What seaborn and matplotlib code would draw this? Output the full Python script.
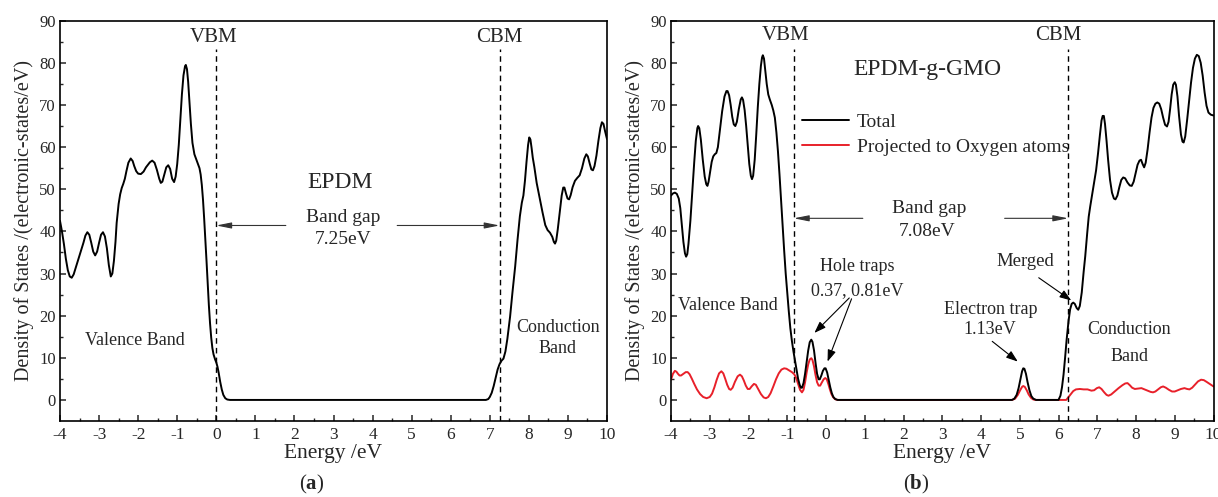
import numpy as np
import pandas as pd
import matplotlib
matplotlib.use("Agg")
import matplotlib.pyplot as plt
import seaborn as sns

# ---------------- data ----------------
energy_a = [-4.0, -3.95, -3.9, -3.85, -3.8, -3.75, -3.7, -3.65, -3.6, -3.5, -3.4, -3.35, -3.3, -3.25,
            -3.2, -3.15, -3.1, -3.05, -3.0, -2.95, -2.9, -2.85, -2.8, -2.75, -2.7, -2.66, -2.62,
            -2.58, -2.55, -2.5, -2.46, -2.42, -2.38, -2.34, -2.3, -2.25, -2.19, -2.14, -2.1, -2.05,
            -2.0, -1.93, -1.86, -1.8, -1.7, -1.64, -1.58, -1.52, -1.46, -1.42, -1.38, -1.33, -1.28,
            -1.23, -1.18, -1.13, -1.08, -1.04, -1.0, -0.96, -0.92, -0.88, -0.84, -0.8, -0.78, -0.75,
            -0.72, -0.68, -0.65, -0.61, -0.56, -0.52, -0.48, -0.43, -0.4, -0.37, -0.34, -0.31, -0.28,
            -0.25, -0.22, -0.19, -0.16, -0.13, -0.1, -0.07, -0.03, 0.0, 0.03, 0.06, 0.1, 0.14, 0.18,
            0.23, 0.28, 0.35, 6.9, 6.96, 7.0, 7.05, 7.1, 7.15, 7.2, 7.25, 7.3, 7.35, 7.4, 7.45, 7.52,
            7.58, 7.65, 7.71, 7.77, 7.82, 7.86, 7.9, 7.94, 7.98, 8.01, 8.04, 8.07, 8.1, 8.14, 8.2,
            8.27, 8.35, 8.42, 8.48, 8.54, 8.6, 8.64, 8.67, 8.7, 8.74, 8.79, 8.84, 8.88, 8.91, 8.95,
            8.99, 9.03, 9.07, 9.12, 9.18, 9.24, 9.3, 9.36, 9.42, 9.47, 9.51, 9.56, 9.6, 9.64, 9.68,
            9.73, 9.78, 9.83, 9.87, 9.91, 9.95, 10.0]
dos_a = [42.5, 40, 37, 33.5, 30.8, 29.3, 29, 29.8, 31.3, 34.3, 37.3, 39, 39.8, 39.2,
         37.3, 35.2, 34.3, 35.2, 37.3, 39.2, 39.8, 38.8, 36, 32, 29.3, 30, 33,
         37.5, 42, 46.5, 48.8, 50.3, 51.3, 52.5, 54.3, 56.3, 57.3, 56.7, 55.5, 54.3,
         53.7, 53.6, 54.2, 55.2, 56.4, 56.8, 56.3, 54.6, 52.5, 51.5, 51.8, 53.5, 55.2,
         55.7, 54.8, 52.5, 51.7, 53, 56, 60.5, 66.5, 72.5, 77, 79.2, 79.5, 78.5,
         75.5, 70, 65.5, 61, 58.3, 57.3, 56.3, 55, 53.5, 51, 47.5, 43, 38,
         33, 27.5, 22.5, 18.2, 14.8, 12.3, 10.8, 9.6, 8.9, 7.9, 6.5, 4.3, 2.5, 1.2,
         0.4, 0.1, 0, 0, 0.2, 0.7, 1.7, 3.3, 5.3, 7.2, 8.5, 9.3, 9.8, 11.5, 14.5, 19.8,
         25.5, 31.7, 38, 43.6, 46.8, 48.5, 52, 56.5, 60.5, 62.3, 61.8, 59.8, 57.5, 55.3, 51.5,
         48.2, 44.5, 41.5, 40.3, 39.7, 38.7, 37.5, 37.1, 37.8, 40.5, 44.5, 48.5, 50.4, 50.4, 49,
         47.8, 47.6, 48.6, 50.5, 52, 52.7, 53.3, 55, 57.3, 58.3, 57.8, 56, 54.7, 54.5, 55.5,
         58, 61.5, 64.5, 65.9, 65.5, 63.8, 61.9]

energy_b_total = [-4.0, -3.95, -3.9, -3.85, -3.8, -3.76, -3.72, -3.68, -3.64, -3.61, -3.58, -3.55,
                  -3.5, -3.45, -3.4, -3.36, -3.32, -3.3, -3.27, -3.23, -3.18, -3.13, -3.09, -3.06,
                  -3.03, -2.99, -2.95, -2.91, -2.87, -2.83, -2.79, -2.74, -2.68, -2.62, -2.57, -2.54,
                  -2.5, -2.46, -2.42, -2.38, -2.34, -2.3, -2.25, -2.2, -2.17, -2.14, -2.1, -2.06,
                  -2.02, -1.98, -1.94, -1.91, -1.88, -1.84, -1.8, -1.76, -1.72, -1.68, -1.65, -1.63,
                  -1.6, -1.57, -1.53, -1.49, -1.45, -1.4, -1.36, -1.32, -1.28, -1.24, -1.2, -1.16,
                  -1.12, -1.08, -1.04, -1.0, -0.96, -0.92, -0.88, -0.84, -0.8, -0.76, -0.72, -0.68,
                  -0.65, -0.62, -0.58, -0.54, -0.5, -0.46, -0.42, -0.38, -0.35, -0.31, -0.27, -0.23,
                  -0.19, -0.16, -0.12, -0.08, -0.04, -0.01, 0.03, 0.07, 0.11, 0.15, 0.19, 0.24, 0.3,
                  4.8, 4.86, 4.92, 4.97, 5.02, 5.06, 5.09, 5.12, 5.16, 5.2, 5.25, 5.3, 5.35, 5.42,
                  6.0, 6.05, 6.09, 6.13, 6.17, 6.21, 6.26, 6.3, 6.34, 6.38, 6.42, 6.47, 6.51, 6.55,
                  6.6, 6.65, 6.69, 6.74, 6.78, 6.82, 6.87, 6.92, 6.97, 7.02, 7.07, 7.11, 7.14, 7.17,
                  7.2, 7.24, 7.28, 7.33, 7.38, 7.43, 7.47, 7.52, 7.57, 7.62, 7.67, 7.72, 7.78, 7.84,
                  7.89, 7.94, 7.99, 8.04, 8.09, 8.13, 8.17, 8.21, 8.25, 8.3, 8.35, 8.4, 8.45, 8.5,
                  8.55, 8.6, 8.65, 8.7, 8.75, 8.8, 8.84, 8.88, 8.92, 8.96, 9.0, 9.03, 9.07, 9.11,
                  9.16, 9.2, 9.23, 9.27, 9.32, 9.37, 9.42, 9.47, 9.52, 9.57, 9.62, 9.67, 9.72, 9.77,
                  9.82, 9.87, 9.93, 10.0]
dos_b_total = [48.5, 49, 49.2, 48.9, 47.8, 45.5, 41.5, 37.5, 34.8, 34, 34.6, 37,
               42.5, 49.5, 56.5, 61.5, 64.5, 65, 64.5, 61.8, 57, 53, 51.2, 50.8,
               51.8, 54.2, 56.5, 57.8, 58.3, 58.6, 60, 63.8, 68.5, 72, 73.3, 73.3,
               72.3, 70, 67.2, 65.4, 65, 66, 69, 71.3, 71.8, 71.2, 68.8, 65,
               60.5, 56, 53.2, 52.4, 53.2, 57, 63, 69.5, 75, 79.3, 81.3, 81.8,
               81, 78.5, 75, 72.5, 71.3, 70, 68.7, 67, 63.5, 59, 53.5, 47.5,
               41.5, 35.5, 30, 25.5, 21, 17, 14, 11.5, 9.3, 7, 5, 3.6,
               2.9, 2.9, 4, 6.2, 9, 11.7, 13.7, 14.3, 13.8, 11.8, 8.8, 6.2,
               4.9, 4.9, 5.8, 6.9, 7.5, 7.5, 6.5, 4.8, 3, 1.6, 0.7, 0.2, 0,
               0, 0.3, 1.2, 2.8, 5, 6.8, 7.5, 7.4, 6.2, 4.3, 2.3, 0.9, 0.3, 0,
               0, 1, 3, 6, 10, 14.3, 18.8, 21.5, 22.8, 23.1, 22.8, 21.8, 21.4, 22.3,
               25.5, 30.5, 34.1, 39.5, 43.5, 46, 48.8, 51.5, 54.5, 58.5, 63, 66.3, 67.4, 67.4,
               65.5, 61.5, 57, 52.2, 49.2, 47.8, 47.6, 48.5, 50.5, 52.2, 52.8, 52.6, 51.6, 50.9,
               50.8, 51.8, 53.8, 55.8, 56.8, 57, 56, 55.2, 56.3, 59.5, 63.5, 67, 69.3, 70.3,
               70.6, 70.3, 69, 67, 65.3, 64.9, 66, 69, 72.5, 74.8, 75.4, 74.8, 72, 67.5,
               63, 61.3, 61.1, 62.5, 66.5, 71, 75.3, 78.8, 81, 81.9, 81.6, 80, 77, 73,
               69.8, 68.2, 67.7, 67.5]

energy_b_oxygen = [-4.0, -3.95, -3.9, -3.86, -3.82, -3.78, -3.74, -3.68, -3.62, -3.57, -3.52, -3.46,
                   -3.4, -3.33, -3.25, -3.17, -3.08, -3.0, -2.94, -2.88, -2.82, -2.76, -2.7, -2.65,
                   -2.6, -2.55, -2.5, -2.46, -2.41, -2.35, -2.28, -2.22, -2.17, -2.12, -2.07, -2.02,
                   -1.97, -1.92, -1.86, -1.81, -1.75, -1.68, -1.61, -1.55, -1.49, -1.43, -1.36, -1.29,
                   -1.22, -1.15, -1.08, -1.02, -0.95, -0.88, -0.82, -0.77, -0.72, -0.67, -0.62, -0.58,
                   -0.54, -0.5, -0.46, -0.42, -0.38, -0.35, -0.31, -0.27, -0.23, -0.19, -0.15, -0.11,
                   -0.06, -0.02, 0.02, 0.06, 0.1, 0.14, 0.18, 0.23, 0.3, 4.8, 4.88, 4.95, 5.01, 5.06,
                   5.09, 5.13, 5.18, 5.23, 5.29, 5.35, 5.42, 6.2, 6.26, 6.32, 6.38, 6.45, 6.55, 6.65,
                   6.75, 6.85, 6.92, 6.99, 7.05, 7.11, 7.18, 7.24, 7.29, 7.36, 7.45, 7.55, 7.65, 7.72,
                   7.78, 7.84, 7.9, 7.97, 8.05, 8.14, 8.22, 8.3, 8.38, 8.44, 8.5, 8.57, 8.64, 8.7,
                   8.77, 8.85, 8.93, 9.0, 9.08, 9.16, 9.25, 9.32, 9.38, 9.45, 9.52, 9.6, 9.68, 9.75,
                   9.82, 9.9, 9.96, 10.0]
dos_b_oxygen = [4.8, 6.2, 6.9, 6.7, 6.2, 5.8, 5.8, 6.2, 6.6, 6.6, 6.1, 5.0,
                3.8, 2.5, 1.4, 0.7, 0.4, 0.7, 1.5, 3.0, 4.8, 6.3, 6.8, 6.3,
                5.0, 3.6, 2.6, 2.4, 2.9, 4.3, 5.6, 6.0, 5.6, 4.6, 3.4, 2.6,
                2.6, 3.2, 3.8, 3.6, 2.6, 1.4, 0.6, 0.4, 0.7, 1.6, 3.2, 4.9,
                6.3, 7.2, 7.5, 7.4, 7.0, 6.6, 6.1, 5.2, 3.8, 2.4, 1.8, 2.4,
                4.2, 6.5, 8.4, 9.6, 9.9, 9.5, 8.0, 5.9, 4.2, 3.4, 3.4, 4.1,
                4.9, 5.2, 4.9, 3.8, 2.5, 1.4, 0.7, 0.2, 0, 0, 0.3, 1.2, 2.3, 3.1,
                3.3, 3.1, 2.3, 1.3, 0.5, 0.1, 0, 0, 0.7, 1.4, 2.1, 2.5, 2.6, 2.5,
                2.5, 2.2, 2.3, 2.8, 3.0, 2.6, 1.8, 1.2, 1.0, 1.3, 2.0, 2.8, 3.5, 3.9,
                4.0, 3.5, 2.9, 2.6, 2.7, 2.8, 2.5, 2.2, 1.9, 1.8, 2.0, 2.5, 3.0, 3.2,
                2.9, 2.4, 2.0, 2.0, 2.3, 2.6, 2.8, 2.6, 2.5, 2.9, 3.6, 4.4, 4.8, 4.7,
                4.3, 3.8, 3.4, 3.2]

vbm_a, cbm_a = 0.0, 7.25
vbm_b, cbm_b = -0.83, 6.25
x_ticks = list(range(-4, 11))
y_ticks = list(range(0, 91, 10))

# ---------------- style ----------------
sns.set_style("ticks")
plt.rcParams["font.family"] = ["Liberation Serif", "DejaVu Serif"]
plt.rcParams["mathtext.fontset"] = "custom"
plt.rcParams["mathtext.rm"] = "Liberation Serif"
plt.rcParams["mathtext.bf"] = "Liberation Serif:bold"
plt.rcParams["axes.unicode_minus"] = False

W, H = 1218, 497
fig = plt.figure(figsize=(W / 100, H / 100), dpi=100)
fig.patch.set_facecolor("white")

bottom_px, top_px = 421, 20.7
ax_a = fig.add_axes([60 / W, 1 - bottom_px / H, (607 - 60) / W, (bottom_px - top_px) / H])
ax_b = fig.add_axes([671 / W, 1 - bottom_px / H, (1213.5 - 671) / W, (bottom_px - top_px) / H])

RED = "#e8202a"
LW = 1.4

df_a = pd.DataFrame({"Energy": energy_a, "DOS": dos_a})
df_bt = pd.DataFrame({"Energy": energy_b_total, "DOS": dos_b_total})
df_bo = pd.DataFrame({"Energy": energy_b_oxygen, "DOS": dos_b_oxygen})

line_kw = dict(estimator=None, solid_joinstyle="round", solid_capstyle="round")
sns.lineplot(data=df_a, x="Energy", y="DOS", ax=ax_a, color="black", lw=LW, **line_kw)
sns.lineplot(data=df_bo, x="Energy", y="DOS", ax=ax_b, color=RED, lw=LW,
             label="Projected to Oxygen atoms", **line_kw)
sns.lineplot(data=df_bt, x="Energy", y="DOS", ax=ax_b, color="black", lw=LW,
             label="Total", **line_kw)

for ax in (ax_a, ax_b):
    ax.set_xlim(-4, 10)
    ax.set_ylim(-5, 90)
    ax.set_xticks(x_ticks)
    ax.set_xticklabels([str(t) for t in x_ticks])
    ax.set_yticks(y_ticks)
    ax.set_xticks(np.arange(-3.5, 10, 1.0), minor=True)
    ax.set_yticks(np.arange(5, 90, 10), minor=True)
    ax.tick_params(axis="both", which="major", direction="in", length=4, width=1.1,
                   top=False, right=False)
    ax.tick_params(axis="both", which="minor", direction="in", length=2.5, width=1.0,
                   top=False, right=False)
    ax.tick_params(axis="x", which="major", labelsize=12.5, pad=4)
    ax.tick_params(axis="y", which="major", labelsize=12, pad=3)
    for sp in ax.spines.values():
        sp.set_visible(True)
        sp.set_linewidth(1.2)
        sp.set_color("black")
    ax.set_xlabel("Energy /eV", fontsize=15.5, labelpad=1)
    ax.set_ylabel("Density of States /(electronic-states/eV)", fontsize=14.5, labelpad=4)
    ax.grid(False)

# ---------------- panel (a) annotations ----------------
dash = dict(color="black", lw=1.0, linestyles=(0, (4, 3)))
ax_a.vlines([vbm_a, cbm_a], -5, 83.3, **dash)
ax_a.text(-0.06, 86, "VBM", ha="center", va="center", fontsize=15)
ax_a.text(7.25, 86, "CBM", ha="center", va="center", fontsize=15)
ax_a.text(3.18, 51.7, "EPDM", ha="center", va="center", fontsize=17)
ax_a.text(3.25, 43.2, "Band gap", ha="center", va="center", fontsize=14)
ax_a.text(3.25, 38.0, "7.25eV", ha="center", va="center", fontsize=14)
ax_a.text(-2.08, 14.1, "Valence Band", ha="center", va="center", fontsize=13)
ax_a.text(8.74, 17.2, "Conduction", ha="center", va="center", fontsize=13)
ax_a.text(8.74, 12.2, "Band", ha="center", va="center", fontsize=13)

gap_arrow = dict(arrowstyle="-|>,head_length=0.9,head_width=0.18", color="#333333",
                 lw=0.8, shrinkA=0, shrinkB=0)
ax_a.annotate("", xy=(vbm_a, 41.4), xytext=(1.78, 41.4), arrowprops=gap_arrow)
ax_a.annotate("", xy=(cbm_a, 41.4), xytext=(4.63, 41.4), arrowprops=gap_arrow)

# ---------------- panel (b) annotations ----------------
ax_b.vlines([vbm_b, cbm_b], -5, 83.3, **dash)
ax_b.text(-1.04, 86.5, "VBM", ha="center", va="center", fontsize=15)
ax_b.text(5.99, 86.5, "CBM", ha="center", va="center", fontsize=15)
ax_b.text(2.62, 78.4, "EPDM-g-GMO", ha="center", va="center", fontsize=17)
ax_b.text(2.65, 45.4, "Band gap", ha="center", va="center", fontsize=14)
ax_b.text(2.62, 40.0, "7.08eV", ha="center", va="center", fontsize=14)
ax_b.annotate("", xy=(vbm_b, 43.1), xytext=(0.95, 43.1), arrowprops=gap_arrow)
ax_b.annotate("", xy=(cbm_b, 43.1), xytext=(4.61, 43.1), arrowprops=gap_arrow)
ax_b.text(-2.52, 22.3, "Valence Band", ha="center", va="center", fontsize=13)
ax_b.text(7.82, 16.7, "Conduction", ha="center", va="center", fontsize=13)
ax_b.text(7.82, 10.2, "Band", ha="center", va="center", fontsize=13)

ax_b.text(0.80, 31.6, "Hole traps", ha="center", va="center", fontsize=13)
ax_b.text(0.80, 26.0, "0.37, 0.81eV", ha="center", va="center", fontsize=13)
ax_b.text(4.24, 21.4, "Electron trap", ha="center", va="center", fontsize=13)
ax_b.text(4.22, 16.7, "1.13eV", ha="center", va="center", fontsize=13)
ax_b.text(5.14, 32.9, "Merged", ha="center", va="center", fontsize=13.5)

ann_arrow = dict(arrowstyle="-|>,head_length=0.7,head_width=0.25", color="black",
                 lw=0.8, shrinkA=0, shrinkB=0)
ax_b.annotate("", xy=(-0.30, 15.9), xytext=(0.60, 24.2), arrowprops=ann_arrow)
ax_b.annotate("", xy=(0.04, 9.1), xytext=(0.66, 24.0), arrowprops=ann_arrow)
ax_b.annotate("", xy=(4.95, 9.1), xytext=(4.29, 13.9), arrowprops=ann_arrow)
ax_b.annotate("", xy=(6.33, 23.6), xytext=(5.49, 29.0), arrowprops=ann_arrow)

handles, labels = ax_b.get_legend_handles_labels()
order = [labels.index("Total"), labels.index("Projected to Oxygen atoms")]
leg = ax_b.legend([handles[i] for i in order], [labels[i] for i in order],
                  loc="upper left", bbox_to_anchor=((-0.61 + 4) / 14, (68.1 + 5) / 95),
                  frameon=False, fontsize=14, handlelength=2.4, handletextpad=0.4,
                  labelspacing=0.4, borderpad=0, borderaxespad=0)

# ---------------- captions ----------------
fig.text(312 / W, 1 - 484 / H, r"($\mathbf{a}$)", ha="center", va="center", fontsize=15)
fig.text(916 / W, 1 - 484 / H, r"($\mathbf{b}$)", ha="center", va="center", fontsize=15)

fig.savefig("out.png", dpi=100, facecolor="white")
